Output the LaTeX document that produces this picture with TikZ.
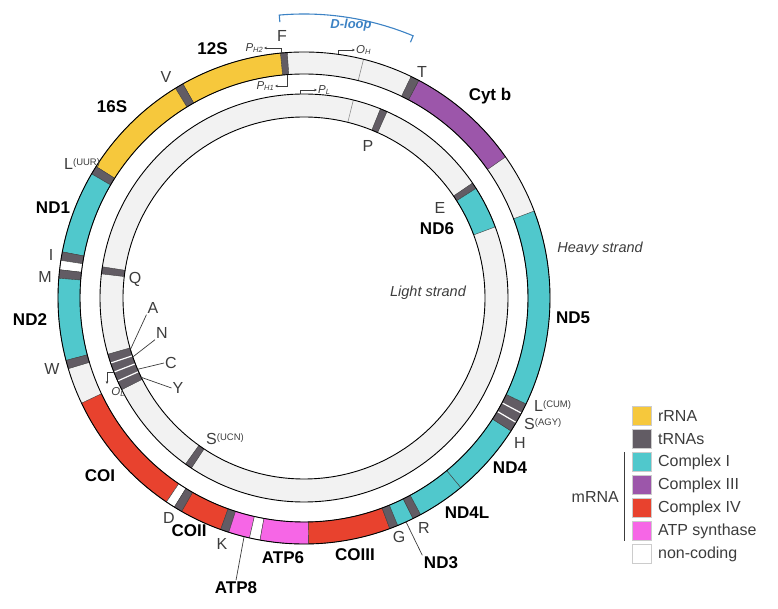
\documentclass[tikz,border=0pt]{standalone}
\usepackage{fontspec}
\setmainfont{Liberation Sans}
\usetikzlibrary{arrows.meta,positioning,calc}
\definecolor{RibYellow}{RGB}{246,200,60}
\definecolor{TrnaGray}{RGB}{98,92,100}
\definecolor{CompOne}{RGB}{80,200,204}
\definecolor{CompThree}{RGB}{156,86,170}
\definecolor{CompFour}{RGB}{232,66,46}
\definecolor{AtpPink}{RGB}{246,102,230}
\definecolor{NonCod}{RGB}{242,242,242}
\definecolor{LoopBlue}{RGB}{60,130,196}
\definecolor{LabGray}{RGB}{60,60,60}

% annular piece of a ring: inner r, outer r, from angle, to angle, fill
\newcommand{\ringseg}[5]{%
  \filldraw[fill=#5,draw=black!75,line width=0.4pt]
    (#3:#2) arc[start angle=#3,end angle=#4,radius=#2]
    -- (#4:#1) arc[start angle=#4,end angle=#3,radius=#1] -- cycle;}
\newcommand{\acod}[1]{\raisebox{4.5pt}{\fontsize{9.5}{10}\selectfont(#1)}}
\newcommand{\prsub}[2]{\textit{#1}\raisebox{-1.8pt}{\fontsize{7.5}{8}\selectfont\itshape #2}}

\begin{document}
\begin{tikzpicture}[x=1pt,y=1pt,
  gene/.style={font=\fontsize{17}{19}\selectfont\bfseries,inner sep=1.5pt},
  trna/.style={font=\fontsize{16}{18}\selectfont,text=LabGray,inner sep=1pt},
  prom/.style={font=\fontsize{11.5}{12}\selectfont,text=LabGray,inner sep=1pt},
  strand/.style={font=\fontsize{14.5}{16}\selectfont\itshape,text=LabGray},
  leader/.style={draw=LabGray,line width=0.7pt},
  promarrow/.style={draw=LabGray,line width=0.6pt,-{Stealth[length=3pt,width=2.6pt]}},
  keybox/.style={draw=black!20,minimum size=19pt,inner sep=0pt},
  keytext/.style={font=\fontsize{16}{18}\selectfont,text=LabGray,anchor=west,inner sep=0pt}]
  \useasboundingbox (-304,-311) rectangle (474,298);

  % heavy (outer) and light (inner) strand
  \fill[NonCod,even odd rule] (0,0) circle[radius=246] (0,0) circle[radius=224];
  \fill[NonCod,even odd rule] (0,0) circle[radius=204] (0,0) circle[radius=181];
  \foreach \sa/\sb/\sc in {
    93.9/95.5/TrnaGray, 95.5/119.5/RibYellow, 119.5/121.5/TrnaGray,
    121.5/147.7/RibYellow, 147.7/149.7/TrnaGray, 149.7/169.2/CompOne,
    169.2/171.2/TrnaGray, 171.2/173.4/white, 173.4/175.4/TrnaGray,
    175.4/194.7/CompOne, 194.7/196.7/TrnaGray, 205.3/236/CompFour,
    236/238.2/white, 238.2/240.2/TrnaGray, 240.2/250.2/CompFour,
    250.2/252.2/TrnaGray, 252.2/257.2/AtpPink, 257.2/259.7/white,
    259.7/271.1/AtpPink, 271.1/290.4/CompFour, 290.4/292.4/TrnaGray,
    292.4/296.3/CompOne, 296.3/298.3/TrnaGray, 298.3/309.6/CompOne,
    309.6/327.3/CompOne, 327.3/334.5/TrnaGray, -25.5/20.7/CompOne,
    35/62.2/CompThree, 62.2/64.2/TrnaGray}
    \ringseg{224}{246}{\sa}{\sb}{\sc};
  \foreach \sa/\sb/\sc in {66/68/TrnaGray, 32.5/34.3/TrnaGray,
    20.4/32.5/CompOne, 171.2/173.2/TrnaGray, 196/206.7/TrnaGray,
    234.5/236.5/TrnaGray}
    \ringseg{181}{204}{\sa}{\sb}{\sc};
  \foreach \wa in {329.6,332.1}
    \draw[white,line width=1.2pt] (\wa:224.6) -- (\wa:245.4);
  \foreach \wa in {198.6,201.3,204}
    \draw[white,line width=1.2pt] (\wa:181.6) -- (\wa:203.4);
  \draw[black!45,line width=0.6pt] (76:224) -- (76:246) (76:181) -- (76:204);
  \foreach \rr in {246,224,204,181}
    \draw[line width=0.9pt] (0,0) circle[radius=\rr];

  % D-loop bracket
  \draw[LoopBlue,line width=1.1pt] (95:277) -- (95:284)
    arc[start angle=95,end angle=67.4,radius=284] -- (67.4:277);
  \node[font=\fontsize{13}{15}\selectfont\bfseries\itshape,text=LoopBlue] (dloop) at (47,273) {D-loop};

  % genes
  \node[gene] (g12S) at (-91.5,249.5) {12S};
  \node[gene] (g16S) at (-192,191) {16S};
  \node[gene] (gND1) at (-251,90) {ND1};
  \node[gene] (gND2) at (-274,-22) {ND2};
  \node[gene] (gCOI) at (-204,-178) {COI};
  \node[gene] (gCOII) at (-115,-233) {COII};
  \node[gene] (gATP8) at (-68,-290) {ATP8};
  \node[gene] (gATP6) at (-21,-260) {ATP6};
  \node[gene] (gCOIII) at (51,-257) {COIII};
  \node[gene] (gND3) at (137,-265) {ND3};
  \node[gene] (gND4L) at (163,-215) {ND4L};
  \node[gene] (gND4) at (206,-170) {ND4};
  \node[gene] (gND5) at (269,-20) {ND5};
  \node[gene] (gCytb) at (186,202) {Cyt b};
  \node[gene] (gND6) at (133,69) {ND6};

  % tRNAs
  \node[trna] (tF) at (-22,262) {F};
  \node[trna] (tV) at (-138,221) {V};
  \node[trna,anchor=base west] (tLuur) at (-241,128) {L\acod{UUR}};
  \node[trna] (tI) at (-253,43) {I};
  \node[trna] (tM) at (-259,21) {M};
  \node[trna] (tW) at (-252,-71) {W};
  \node[trna] (tD) at (-135,-220) {D};
  \node[trna] (tK) at (-82,-246) {K};
  \node[trna] (tG) at (95,-239) {G};
  \node[trna] (tR) at (120,-230) {R};
  \node[trna] (tH) at (216,-145) {H};
  \node[trna,anchor=base west] (tSagy) at (219,-132) {S\acod{AGY}};
  \node[trna,anchor=base west] (tLcum) at (229,-114) {L\acod{CUM}};
  \node[trna] (tT) at (118,226) {T};
  \node[trna] (tE) at (136,90) {E};
  \node[trna] (tP) at (64,152) {P};
  \node[trna] (tQ) at (-169,19) {Q};
  \node[trna,anchor=base west] (tSucn) at (-99,-147) {S\acod{UCN}};
  \node[trna] (tA) at (-151,-10) {A};
  \node[trna] (tN) at (-142,-35) {N};
  \node[trna] (tC) at (-133,-65) {C};
  \node[trna] (tY) at (-126,-90) {Y};

  % leader lines
  \coordinate (atp8pt) at (255.9:246);
  \coordinate (nd3pt) at (294.5:246);
  \coordinate (apt) at (196.5:181);
  \coordinate (npt) at (199:181);
  \coordinate (cpt) at (203.2:181);
  \coordinate (ypt) at (206:181);
  \draw[leader] (atp8pt) -- (gATP8.north);
  \draw[leader] (nd3pt) -- (gND3.north west);
  \draw[leader] (apt) -- (tA.south west);
  \draw[leader] (npt) -- (tN.south west);
  \draw[leader] (cpt) -- (tC.west);
  \draw[leader] (ypt) -- (tY.west);

  % promoters and origins
  \node[prom,anchor=east] (pH2) at (-40,250) {\prsub{P}{H2}};
  \node[prom,anchor=east] (pH1) at (-29,212) {\prsub{P}{H1}};
  \node[prom,anchor=west] (oH) at (51,248) {\prsub{O}{H}};
  \node[prom,anchor=west] (pL) at (13,208) {\prsub{P}{L}};
  \node[prom] (oL) at (-186,-94) {\prsub{O}{L}};
  \coordinate (ph2s) at (95.4:246);
  \coordinate (ph1s) at (94.4:224);
  \coordinate (ohs) at (82:246);
  \coordinate (pls) at (91.1:204);
  \coordinate (ols) at (201.3:204);
  \coordinate (olend) at (-197,-86);
  \draw[promarrow] (ph2s) |- (pH2.east);
  \draw[promarrow] (ph1s) |- (pH1.east);
  \draw[promarrow] (ohs) |- (oH.west);
  \draw[promarrow] (pls) |- (pL.west);
  \draw[promarrow] (ols) -| (olend);

  \node[strand] (hvy) at (296,49) {Heavy strand};
  \node[strand] (lgt) at (124,5) {Light strand};

  % key
  \foreach \kcol/\ktxt [count=\k] in {RibYellow/rRNA, TrnaGray/tRNAs,
      CompOne/Complex I, CompThree/Complex III, CompFour/Complex IV,
      AtpPink/ATP synthase, white/non-coding} {
    \node[keybox,fill=\kcol] (key\k) at (337.2,{-118-23*(\k-1)}) {};
    \node[keytext,right=7pt of key\k] (keytxt\k) {\ktxt};
  }
  \draw[LabGray,line width=0.8pt] ($(key3.north west)+(-7.5,0)$) -- ($(key6.south west)+(-7.5,0)$);
  \node[keytext,anchor=east] (kmrna) at ($(key3.north west)!0.5!(key6.south west)+(-12.5,0)$) {mRNA};
\end{tikzpicture}
\end{document}
